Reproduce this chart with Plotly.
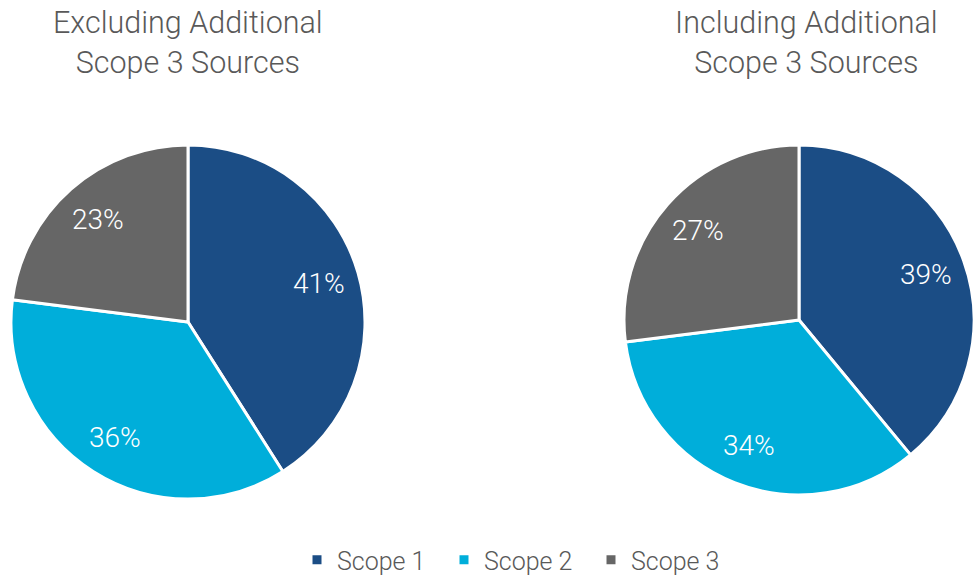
import math
import plotly.graph_objects as go

# Emission shares by scope, without and with the additional scope 3 sources
scopes = ["Scope 1", "Scope 2", "Scope 3"]
excluding_pct = [41, 36, 23]
including_pct = [39, 34, 27]
titles = ["Excluding Additional<br>Scope 3 Sources", "Including Additional<br>Scope 3 Sources"]

colors = ["#1B4D85", "#00AEDA", "#666666"]
text_grey = "#595959"
font_family = "Roboto, 'Open Sans', Lato, sans-serif"

W, H = 974, 583
# (values, centre x, centre y, radius) in pixels; the right pie runs up to the edge
pies = [
    (excluding_pct, 188, 322, 177),
    (including_pct, 799, 320, 175),
]


def pie_domain(cx, cy, r):
    return dict(x=[max(0, (cx - r) / W), min(1, (cx + r) / W)],
                y=[1 - (cy + r) / H, 1 - (cy - r) / H])


fig = go.Figure()
for i, (vals, cx, cy, r) in enumerate(pies):
    fig.add_trace(go.Pie(
        labels=scopes,
        values=vals,
        textinfo="none",
        sort=False,
        direction="clockwise",
        rotation=0,
        marker=dict(colors=colors, line=dict(color="white", width=3)),
        domain=pie_domain(cx, cy, r),
        showlegend=(i == 0),
        hoverinfo="label+percent",
    ))
    # percentage labels sit at each slice's mid-angle, ~3/4 of the way out
    total = sum(vals)
    cum = 0
    for v in vals:
        mid = 2 * math.pi * (cum + v / 2) / total
        cum += v
        lx = cx + 0.77 * r * math.sin(mid)
        ly = cy - 0.77 * r * math.cos(mid)
        fig.add_annotation(
            text=f"{v}%", x=lx / W, y=1 - ly / H, xref="paper", yref="paper",
            xanchor="center", yanchor="middle", showarrow=False,
            font=dict(size=28, color="white", family=font_family, weight=300),
        )

for title, cx in zip(titles, [188, 806]):
    fig.add_annotation(
        text=title, x=cx / W, y=1 - 3 / H, xref="paper", yref="paper",
        xanchor="center", yanchor="top", showarrow=False,
        font=dict(size=30.5, color=text_grey, family=font_family, weight=300),
    )

fig.update_layout(
    width=W, height=H,
    margin=dict(l=0, r=0, t=0, b=0),
    paper_bgcolor="white",
    plot_bgcolor="white",
    legend=dict(
        orientation="h", x=297 / W, xanchor="left", y=0, yanchor="bottom",
        font=dict(size=25, color=text_grey, family=font_family, weight=300),
        itemwidth=30, traceorder="normal",
        entrywidth=102, entrywidthmode="pixels",
    ),
)

fig.write_html("out.html")
